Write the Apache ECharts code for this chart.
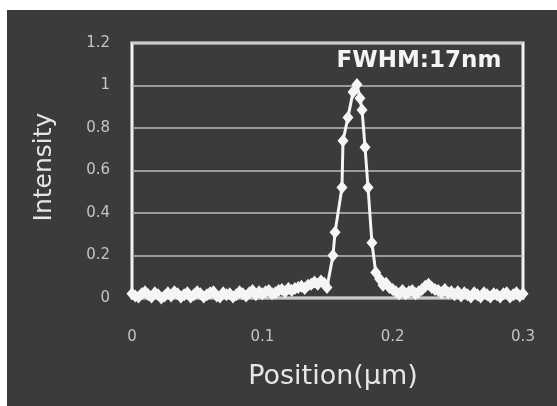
<!DOCTYPE html>
<html>
<head>
<meta charset="utf-8">
<script src="https://cdn.jsdelivr.net/npm/echarts@6/dist/echarts.min.js"></script>
<style>
  html, body { margin: 0; padding: 0; background: #fff; }
  #main { width: 557px; height: 406px; }
</style>
</head>
<body>
<div id="main"></div>
<script>
// line profile across the spot (position in µm, normalised intensity)
const position = [
  0.0000, 0.0025, 0.0050, 0.0075, 0.0100, 0.0125, 0.0150, 0.0175, 0.0200, 0.0225,
  0.0250, 0.0275, 0.0300, 0.0325, 0.0350, 0.0375, 0.0400, 0.0425, 0.0450, 0.0475,
  0.0500, 0.0525, 0.0550, 0.0575, 0.0600, 0.0625, 0.0650, 0.0675, 0.0700, 0.0725,
  0.0750, 0.0775, 0.0800, 0.0825, 0.0850, 0.0875, 0.0900, 0.0925, 0.0950, 0.0975,
  0.1000, 0.1025, 0.1050, 0.1075, 0.1100, 0.1125, 0.1150, 0.1175, 0.1200, 0.1225,
  0.1250, 0.1275, 0.1300, 0.1325, 0.1350, 0.1375, 0.1400, 0.1425, 0.1450, 0.1475,
  0.1496, 0.1542, 0.1558, 0.1611, 0.1619, 0.1657, 0.1696, 0.1726, 0.1749, 0.1765,
  0.1788, 0.1811, 0.1841, 0.1870, 0.1900, 0.1926,
  0.1950, 0.1975, 0.2000, 0.2025, 0.2050, 0.2075, 0.2100, 0.2125, 0.2150, 0.2175,
  0.2200, 0.2225, 0.2250, 0.2275, 0.2300, 0.2325, 0.2350, 0.2375, 0.2400, 0.2425,
  0.2450, 0.2475, 0.2500, 0.2525, 0.2550, 0.2575, 0.2600, 0.2625, 0.2650, 0.2675,
  0.2700, 0.2725, 0.2750, 0.2775, 0.2800, 0.2825, 0.2850, 0.2875, 0.2900, 0.2925,
  0.2950, 0.2975, 0.3000
];
const intensity = [
  0.020, 0.010, 0.005, 0.020, 0.030, 0.015, 0.005, 0.025, 0.015, 0.000,
  0.010, 0.025, 0.010, 0.030, 0.020, 0.005, 0.015, 0.025, 0.005, 0.015,
  0.030, 0.020, 0.005, 0.015, 0.025, 0.030, 0.010, 0.005, 0.025, 0.015,
  0.020, 0.005, 0.015, 0.030, 0.020, 0.010, 0.025, 0.035, 0.015, 0.030,
  0.020, 0.030, 0.035, 0.020, 0.025, 0.035, 0.040, 0.030, 0.045, 0.035,
  0.045, 0.050, 0.055, 0.045, 0.060, 0.065, 0.075, 0.065, 0.080, 0.070,
  0.050, 0.200, 0.310, 0.520, 0.740, 0.850, 0.970, 1.005, 0.940, 0.885,
  0.710, 0.520, 0.260, 0.120, 0.090, 0.060,
  0.070, 0.050, 0.040, 0.030, 0.020, 0.035, 0.020, 0.030, 0.035, 0.020,
  0.030, 0.040, 0.055, 0.065, 0.050, 0.040, 0.035, 0.025, 0.040, 0.025,
  0.030, 0.015, 0.030, 0.010, 0.025, 0.015, 0.005, 0.025, 0.015, 0.005,
  0.025, 0.015, 0.005, 0.020, 0.015, 0.005, 0.020, 0.025, 0.005, 0.015,
  0.025, 0.010, 0.020
];
const xTicks = [0, 0.1, 0.2, 0.3];
const yTicks = [0, 0.2, 0.4, 0.6, 0.8, 1, 1.2];

let chart = echarts.init(document.getElementById('main'));
let points = position.map((x, i) => [x, intensity[i]]);

chart.setOption({
  backgroundColor: '#3b3b3b',
  animation: false,
  grid: {
    left: 132,
    top: 43,
    right: 34,
    bottom: 108,
    show: true,
    borderColor: '#f2f2f2',
    borderWidth: 3
  },
  xAxis: {
    type: 'value',
    min: xTicks[0],
    max: xTicks[xTicks.length - 1],
    interval: 0.1,
    axisLine: { show: false },
    axisTick: { show: false },
    splitLine: { show: false },
    axisLabel: {
      margin: 32,
      color: '#c4c4c4',
      fontSize: 15,
      fontFamily: 'DejaVu Sans'
    }
  },
  yAxis: {
    type: 'value',
    min: yTicks[0],
    max: yTicks[yTicks.length - 1],
    interval: 0.2,
    axisLine: { show: false },
    axisTick: { show: false },
    splitLine: { lineStyle: { color: '#bdbdbd', width: 1.5 } },
    axisLabel: {
      margin: 22,
      color: '#c4c4c4',
      fontSize: 15,
      fontFamily: 'DejaVu Sans'
    }
  },
  graphic: [
    // white frame outside the dark panel
    { type: 'rect', left: 0, top: 0, shape: { width: 557, height: 10 }, style: { fill: '#ffffff' } },
    { type: 'rect', left: 0, top: 0, shape: { width: 7, height: 406 }, style: { fill: '#ffffff' } },
    {
      type: 'text', x: 44, y: 167, rotation: Math.PI / 2,
      style: {
        text: 'Intensity', fill: '#e6e6e6', font: '25px "DejaVu Sans"',
        align: 'center', verticalAlign: 'middle'
      }
    },
    {
      type: 'text', x: 333, y: 377,
      style: {
        text: 'Position(µm)', fill: '#e6e6e6', font: '27px "DejaVu Sans"',
        align: 'center', verticalAlign: 'middle'
      }
    },
    {
      type: 'text', x: 419, y: 61,
      style: {
        text: 'FWHM:17nm', fill: '#f4f4f4', font: 'bold 23px "DejaVu Sans"',
        align: 'center', verticalAlign: 'middle'
      }
    }
  ],
  series: [
    {
      type: 'line',
      data: points,
      symbol: 'diamond',
      symbolSize: [11, 13],
      showAllSymbol: true,
      lineStyle: { color: '#f5f5f5', width: 3 },
      itemStyle: { color: '#f5f5f5' }
    }
  ]
});
</script>
</body>
</html>
